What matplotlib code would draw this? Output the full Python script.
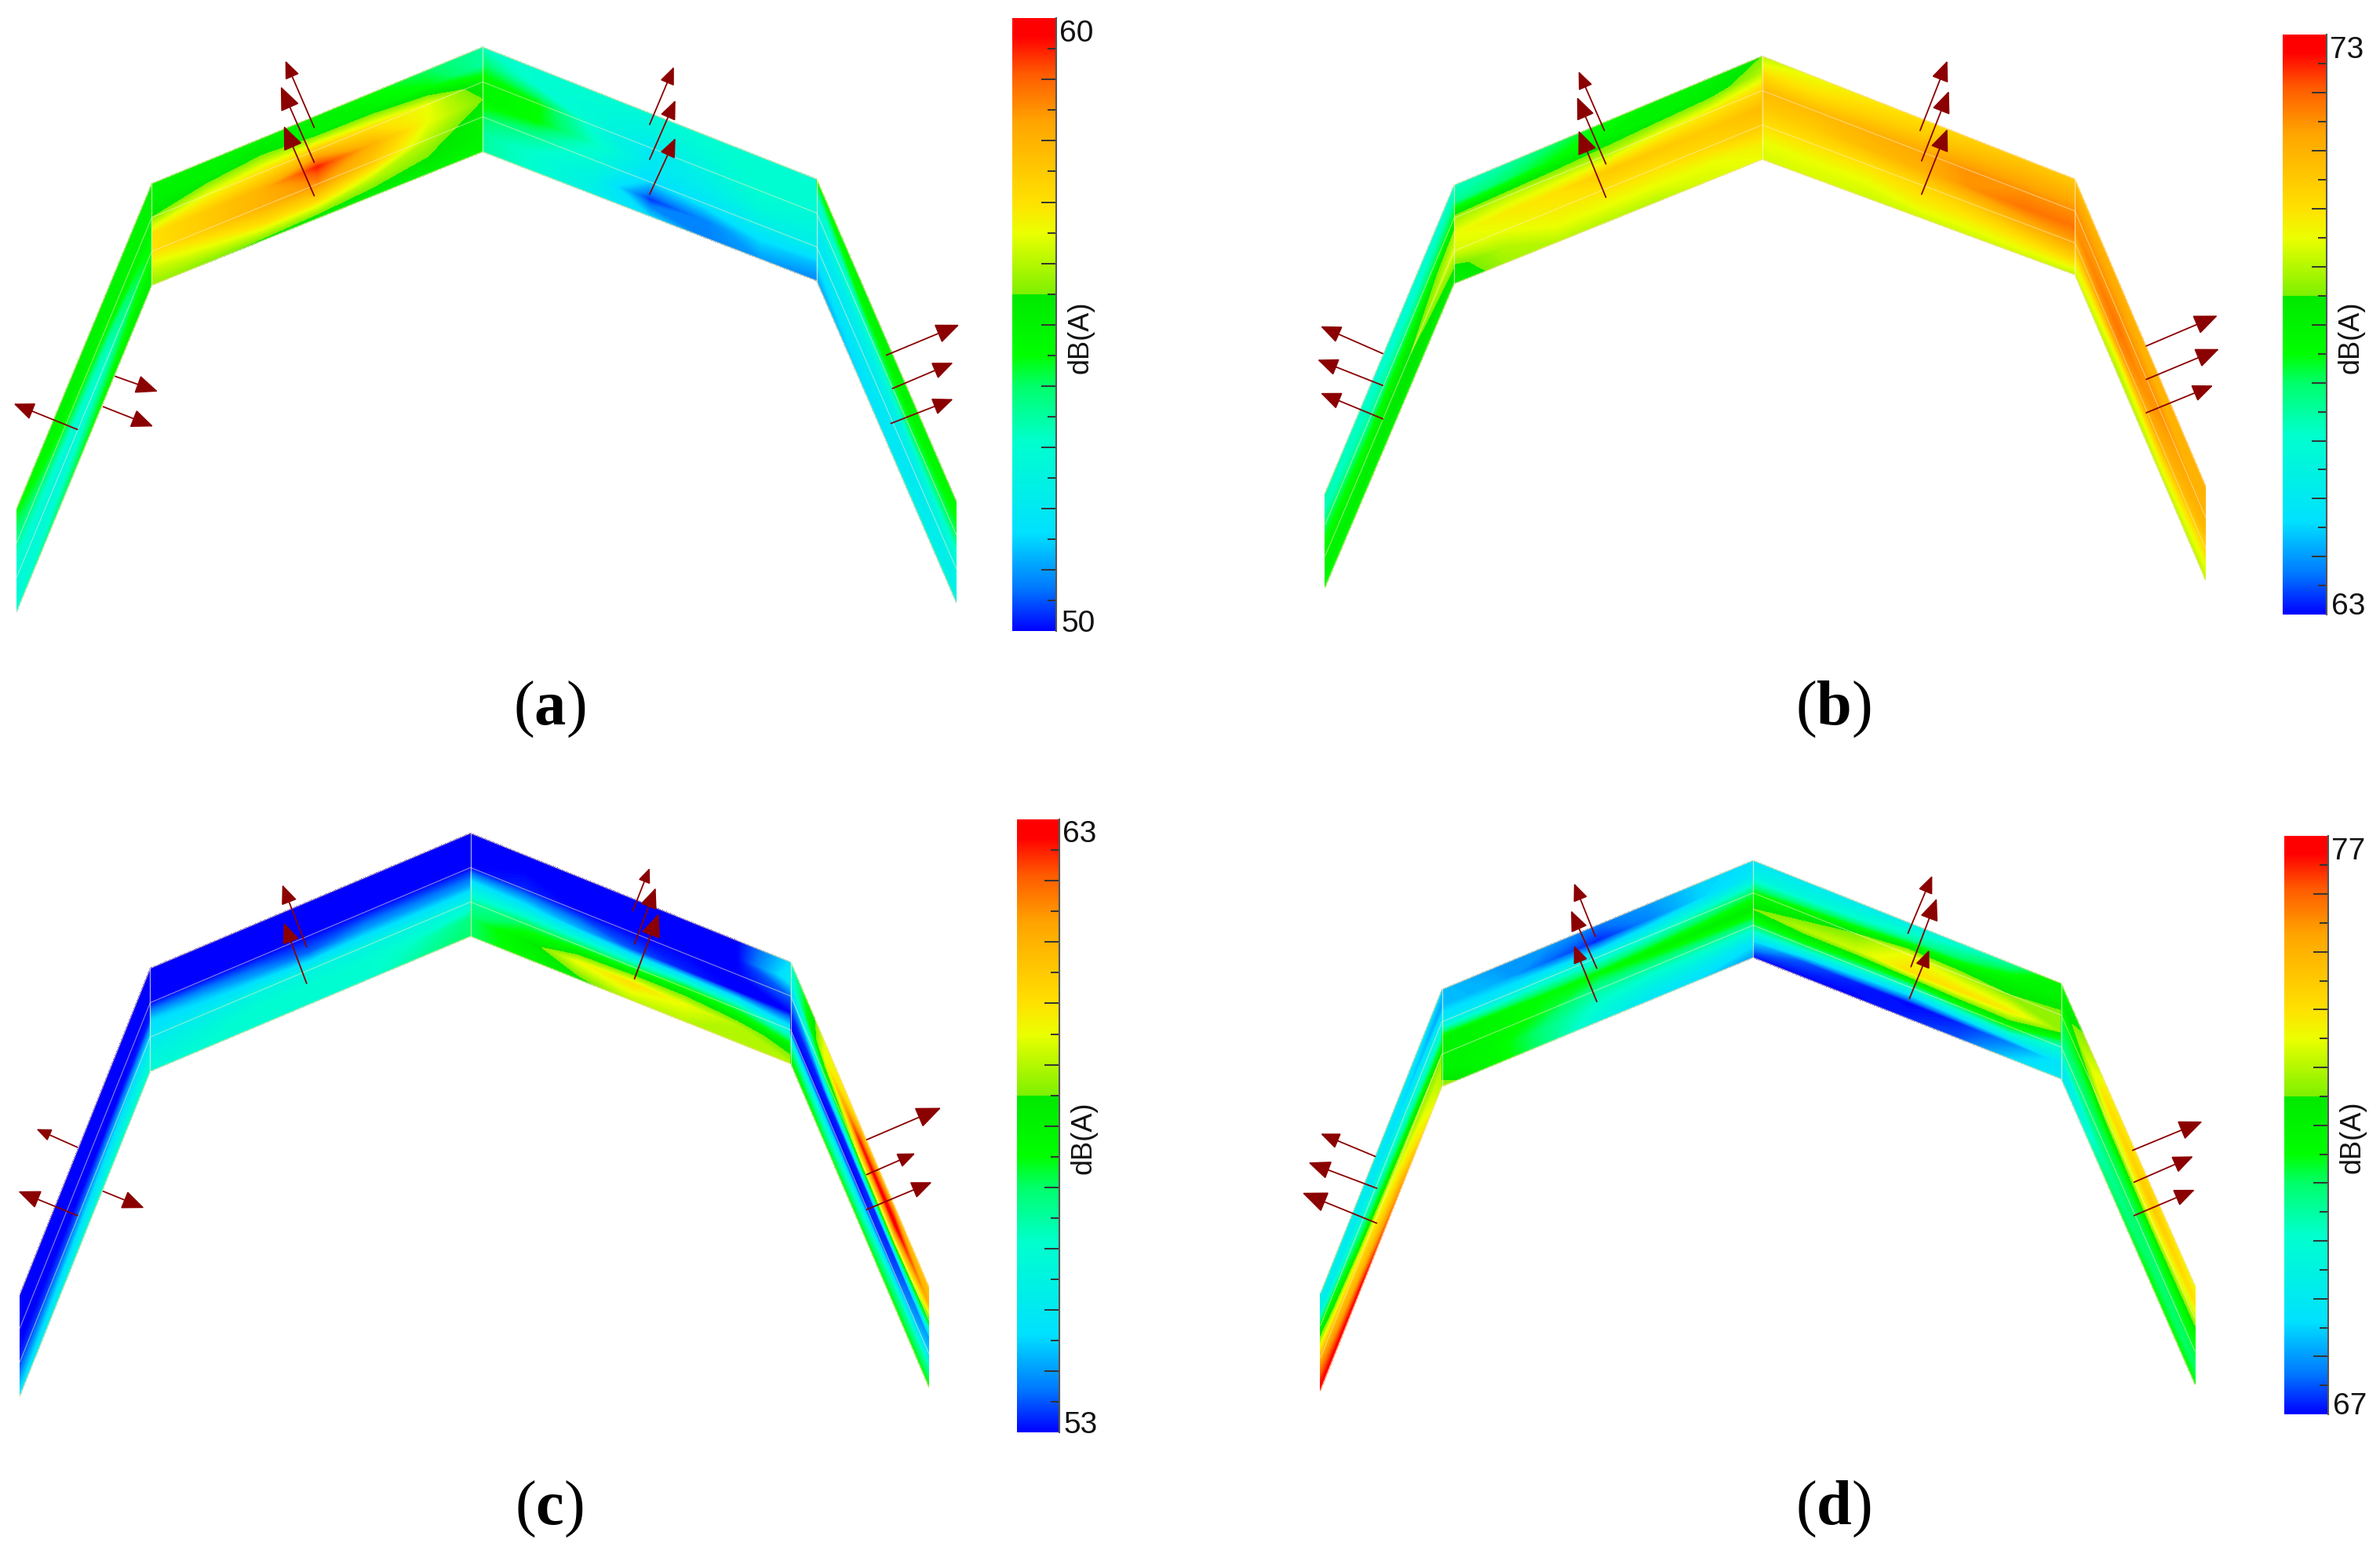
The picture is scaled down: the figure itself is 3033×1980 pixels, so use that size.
import numpy as np
import matplotlib
matplotlib.use("Agg")
import matplotlib.pyplot as plt
from matplotlib.cm import ScalarMappable
from matplotlib.colors import LinearSegmentedColormap, Normalize

plt.rcParams["mathtext.fontset"] = "custom"
plt.rcParams["mathtext.rm"] = "Liberation Serif"
plt.rcParams["mathtext.bf"] = "Liberation Serif:bold"

# colour scale of the contour plots, position on the bar -> rgb
cmap_stops = [
    (0.00, (0, 0, 255)), (0.07, (0, 120, 255)), (0.16, (0, 225, 255)),
    (0.31, (0, 255, 205)), (0.40, (0, 255, 105)), (0.45, (0, 255, 0)),
    (0.5499, (0, 232, 0)), (0.55, (125, 240, 0)), (0.65, (235, 255, 0)),
    (0.70, (255, 225, 0)), (0.83, (255, 165, 0)), (0.91, (255, 90, 0)),
    (0.97, (255, 0, 0)), (1.00, (255, 0, 0)),
]

# outlines: (x, top y, bottom y) at far left, left eave, ridge, right eave, far right
frame_a = [(11, 335, 403), (100, 121, 188), (318, 31, 100), (538, 118, 185), (630, 330, 397)]
frame_b = [(873, 325, 387), (958, 122, 187), (1161, 37, 105), (1367, 118, 181), (1453, 320, 382)]
frame_c = [(13, 853, 920), (99, 638, 706), (310, 549, 617), (521, 634, 701), (612, 848, 914)]
frame_d = [(870, 852, 916), (950, 652, 716), (1155, 567, 631), (1358, 648, 711), (1446, 847, 912)]

# sound levels in dB(A), rows go across the strip, columns along it
a_slope_l = [[54.5, 55, 55, 55], [54, 55, 55, 55], [53.5, 54.3, 54.8, 55], [53, 53, 53.5, 54.8],
             [52.8, 52.5, 53, 54.5], [52.8, 53, 54, 55], [53, 54, 54.8, 55.2]]
a_roof_l = [[55, 55, 55, 55, 54.5, 54, 53.5], [55, 55, 55.5, 55, 55, 54.5, 53.5],
            [55.5, 56.5, 57, 57.5, 57, 56.5, 55], [57, 57.5, 58, 59.5, 58, 56.5, 55.5],
            [57, 57.5, 58, 58.5, 57.5, 56, 55], [56.2, 56.5, 57, 57, 56, 55.5, 55],
            [55.7, 55.5, 55.3, 55, 55, 55, 54.8]]
a_roof_r = [[53.2, 53, 53, 52.8, 53, 53, 53], [54, 53, 52.8, 52.5, 52.8, 53, 53],
            [54.8, 54.5, 52.8, 52, 52.5, 53, 52.8], [54.8, 54.5, 53.2, 52, 52.2, 52.8, 52.6],
            [54, 53.5, 52.8, 51.5, 51.8, 52.2, 52.2], [53.5, 53, 52.5, 50.3, 50.8, 51.5, 51.3],
            [53.5, 53, 52.3, 51.5, 50.8, 51, 50.8]]
a_slope_r = [[54.5, 55, 55, 54.8], [53, 54.8, 55, 54.5], [52.5, 53, 54, 54], [52, 52.3, 52.5, 53],
             [52, 52, 52, 52.5], [51.5, 51.8, 52, 52.3], [51, 51.5, 52.3, 52.5]]

b_slope_l = [[66.5, 66, 66, 66], [66.2, 66.2, 66, 66.5], [67, 66.5, 66.8, 67.5], [67.5, 67.5, 68, 68.8],
             [68, 68, 68.5, 69.3], [68, 68.2, 68.5, 68.5], [67.5, 67.8, 68, 68]]
b_roof_l = [[66.2, 66.4, 67, 67.5, 68, 68, 68.5], [66.6, 67, 67.5, 68, 68, 68.2, 69],
            [68.8, 69, 69, 69, 69.5, 69.8, 70.2], [69.5, 69.8, 70, 70.5, 70.5, 70.5, 70.8],
            [69.3, 69.5, 69.8, 70, 70, 70.2, 70.5], [68.3, 69, 69.5, 69.5, 69.5, 69.5, 69.8],
            [68, 68.8, 69, 69, 69, 69.3, 69.5]]
b_roof_r = [[69, 69.5, 69.8, 70, 70.3, 70.5, 70.5], [70, 70, 70.3, 70.5, 70.8, 71, 71],
            [70.8, 70.8, 71, 71.2, 71.5, 71.5, 71.5], [70.5, 70.5, 70.8, 71, 71.5, 71.8, 71.8],
            [70, 70, 70, 70.2, 70.5, 71, 71.3], [69.5, 69.5, 69.5, 69.8, 69.8, 70, 70.3],
            [69.3, 69.3, 69.2, 69.2, 69.2, 69.2, 69]]
b_slope_r = [[70.5, 71, 71, 71], [71.2, 71.2, 71, 71], [71.5, 71.5, 71.5, 71], [71.5, 71.8, 71.3, 70.8],
             [71, 71.5, 71, 70.2], [69.8, 69.5, 69.8, 69.5], [69.2, 68.8, 69, 69]]

c_slope_l = [[53, 53, 53, 53], [53, 53, 53, 53], [53, 53, 53, 53], [53, 53, 53, 53.2],
             [53.3, 53.5, 54, 54.5], [54, 54.5, 55, 55.5], [54.8, 55.5, 56, 56]]
c_roof_l = [[53, 53, 53, 53, 53, 53, 53], [53, 53, 53, 53, 53, 53, 53],
            [53, 53, 53, 53, 53, 53, 53], [54.5, 54.3, 54, 53.6, 54, 54, 54],
            [55, 55.2, 55.5, 55.5, 55.5, 55.5, 55.5], [55.5, 55.7, 56, 56, 56, 56.2, 56.8],
            [55.8, 56, 56, 56, 56, 56.5, 57]]
c_roof_r = [[53, 53, 53, 53, 53, 53, 54.6], [53, 53, 53, 53, 53, 53, 55],
            [53, 53.2, 53, 53, 53, 53, 53.6], [55, 54.8, 54.2, 53.5, 53.2, 53, 53],
            [56.5, 57, 57, 57, 57.5, 57, 55], [57, 58, 59.5, 60, 59.5, 59, 58],
            [57, 57.8, 58.2, 59, 59, 59, 59]]
c_slope_r = [[56, 59.5, 60, 60.5, 60.5], [55.5, 59.5, 62.5, 63, 61], [54, 57, 59, 60, 58],
             [53.2, 53.2, 53.2, 53.3, 54], [53, 53, 53, 53.5, 54.5], [56.5, 56, 56, 56.5, 56.5],
             [58, 57.5, 57.5, 57.5, 57.5]]

d_slope_l = [[69.5, 69.3, 69, 68.5], [69, 69, 68.5, 68], [71.5, 70, 69.5, 69], [73, 71.5, 71, 70.5],
             [75, 74, 73, 72.5], [76, 75, 74, 73], [77, 77, 75.5, 73]]
d_roof_l = [[68.3, 68, 68, 67.7, 68, 68.5, 68.6], [68.3, 68.2, 67.6, 67.2, 67.8, 68.5, 69],
            [69, 69, 69.5, 69.5, 69.8, 70.5, 71], [72, 71.8, 71.5, 71.5, 71.8, 72, 72.2],
            [72, 71.8, 71.3, 70.5, 70.5, 70.5, 70.5], [72, 71.7, 70.8, 70, 69.5, 69.3, 68.8],
            [72.8, 71.8, 70.8, 69.5, 68.8, 68.5, 68]]
d_roof_r = [[68.8, 69, 69, 69.2, 69.8, 70.5, 72], [69.5, 69.7, 70, 70.5, 71, 71.8, 72],
            [71.5, 72, 72.5, 73.5, 73, 72.5, 72.7], [72.5, 73, 73.2, 74, 74, 73.8, 72.7],
            [71, 71, 70.5, 70, 71, 71.5, 70], [68.5, 67.5, 67.2, 67, 67.2, 67.8, 68.8],
            [67, 67, 67, 67.2, 67.5, 68.5, 69]]
d_slope_r = [[71.5, 73.5, 74, 73.5], [72, 74, 74.5, 74], [71.3, 73, 73.5, 73], [71, 71.3, 71.5, 71.8],
             [70.5, 71, 71, 71.2], [69, 70.5, 71, 71], [69, 71, 71.5, 71.5]]

# arrows: tail x, tail y, head x, head y, head size
arrows_a = [(207, 84, 188, 40, 11), (207, 107, 185, 57, 15), (207, 129, 187, 83, 15),
            (428, 82, 444, 44, 11), (428, 105, 445, 66, 12), (428, 128, 445, 91, 12),
            (584, 234, 632, 214, 15), (588, 256, 628, 239, 13), (587, 279, 628, 263, 13),
            (51, 283, 9, 266, 13), (76, 248, 104, 258, 14), (68, 268, 101, 281, 14)]
arrows_b = [(1057, 86, 1040, 47, 11), (1058, 108, 1039, 64, 14), (1058, 130, 1040, 86, 15),
            (1265, 86, 1283, 40, 13), (1266, 106, 1284, 60, 14), (1266, 128, 1283, 85, 14),
            (1414, 228, 1461, 208, 15), (1414, 250, 1462, 230, 15), (1414, 272, 1458, 254, 13),
            (911, 233, 870, 215, 13), (911, 254, 868, 237, 13), (911, 276, 870, 259, 13)]
arrows_c = [(202, 624, 186, 583, 12), (202, 648, 187, 608, 13),
            (417, 600, 428, 572, 9), (418, 622, 432, 585, 13), (418, 645, 434, 602, 15),
            (571, 751, 620, 730, 16), (571, 774, 603, 760, 11), (571, 797, 614, 779, 13),
            (51, 756, 24, 744, 9), (51, 801, 12, 785, 14), (68, 785, 95, 796, 14)]
arrows_d = [(1051, 617, 1037, 582, 11), (1052, 638, 1035, 600, 13), (1052, 660, 1037, 623, 11),
            (1257, 615, 1273, 577, 11), (1259, 637, 1276, 592, 14), (1258, 658, 1271, 626, 11),
            (1405, 758, 1451, 739, 15), (1406, 779, 1445, 762, 13), (1406, 801, 1446, 784, 13),
            (906, 762, 870, 747, 12), (907, 783, 862, 766, 14), (907, 806, 858, 786, 16)]

# color bar box: left, right, top, bottom, low value
bar_a = (667, 696, 12, 416, 50)
bar_b = (1504, 1533, 23, 405, 63)
bar_c = (670, 698, 540, 944, 53)
bar_d = (1505, 1534, 551, 932, 67)

panel_labels = ["a", "b", "c", "d"]
label_pos = [(362, 467), (1208, 467), (362, 994), (1208, 994)]

W, H = 1568, 1024  # axes units, same as the shrunk reference
rgb = [(p, tuple(v / 255 for v in c)) for p, c in cmap_stops]
cmap = LinearSegmentedColormap.from_list("tecplot", rgb, N=1024)

fig = plt.figure(figsize=(30.33, 19.80), dpi=100, facecolor="white")
ax = fig.add_axes([0, 0, 1, 1])
ax.set_xlim(0, W)
ax.set_ylim(H, 0)
ax.axis("off")


def draw_segment(p0, p1, values, norm):
    z = np.array(values, dtype=float)
    nrow, ncol = z.shape
    s = np.linspace(0, 1, ncol)
    t = np.linspace(0, 1, nrow)[:, None]
    x = p0[0] + (p1[0] - p0[0]) * s
    top = p0[1] + (p1[1] - p0[1]) * s
    bot = p0[2] + (p1[2] - p0[2]) * s
    X = np.tile(x, (nrow, 1))
    Y = top + (bot - top) * t
    levels = np.linspace(norm.vmin, norm.vmax, 241)
    ax.contourf(X, Y, z, levels=levels, cmap=cmap, norm=norm, extend="both", zorder=1)


def draw_lines(frame):
    xs = np.array([p[0] for p in frame])
    tops = np.array([p[1] for p in frame])
    bots = np.array([p[2] for p in frame])
    ax.plot(xs, tops, color="#ffdca8", lw=0.9, alpha=0.8, zorder=2)
    ax.plot(xs, bots, color="#ffdca8", lw=0.9, alpha=0.8, zorder=2)
    for f in (1 / 3, 2 / 3):
        ax.plot(xs, tops + (bots - tops) * f, color="#fff2c8", lw=0.8, alpha=0.55, zorder=2)
    for x, t, b in frame[1:4]:
        ax.plot([x, x], [t, b], color="#fff2c8", lw=0.9, alpha=0.7, zorder=2)


def draw_arrows(arrows):
    for x0, y0, x1, y1, size in arrows:
        ax.annotate("", xy=(x1, y1), xytext=(x0, y0), zorder=3,
                    arrowprops=dict(arrowstyle="-|>,head_length=1.0,head_width=0.42",
                                    mutation_scale=size * 1.25, color="#8b0000", lw=1.3,
                                    shrinkA=0, shrinkB=0))


def draw_bar(bar, norm):
    left, right, top, bottom, low = bar
    cax = fig.add_axes([left / W, 1 - bottom / H, (right - left) / W, (bottom - top) / H])
    cb = fig.colorbar(ScalarMappable(norm=norm, cmap=cmap), cax=cax)
    cb.outline.set_visible(False)
    cb.set_ticks(np.arange(low + 1, low + 10))
    cb.set_ticklabels([])
    cax.set_yticks(np.arange(low + 0.5, low + 10, 1.0), minor=True)
    cax.tick_params(axis="y", which="major", direction="in", length=14, width=1.4, color="#333333", right=True)
    cax.tick_params(axis="y", which="minor", direction="in", length=8, width=1.4, color="#333333", right=True)
    cax.spines["right"].set_visible(True)
    cax.spines["right"].set_color("#555555")
    cax.spines["right"].set_linewidth(1.5)
    ax.text(right + 2, top + 10, str(low + 10), fontsize=28, family="Liberation Sans",
            ha="left", va="center", color="#111111")
    ax.text(right + 3, bottom - 5, str(low), fontsize=28, family="Liberation Sans",
            ha="left", va="center", color="#111111")
    ax.text(right + 16, (top + bottom) / 2 + 8, "dB(A)", fontsize=26, family="Liberation Sans",
            rotation=90, ha="center", va="center", color="#111111")


panels = [
    (frame_a, [a_slope_l, a_roof_l, a_roof_r, a_slope_r], arrows_a, bar_a),
    (frame_b, [b_slope_l, b_roof_l, b_roof_r, b_slope_r], arrows_b, bar_b),
    (frame_c, [c_slope_l, c_roof_l, c_roof_r, c_slope_r], arrows_c, bar_c),
    (frame_d, [d_slope_l, d_roof_l, d_roof_r, d_slope_r], arrows_d, bar_d),
]

for frame, segments, arrows, bar in panels:
    norm = Normalize(bar[4], bar[4] + 10)
    for i, values in enumerate(segments):
        draw_segment(frame[i], frame[i + 1], values, norm)
    draw_lines(frame)
    draw_arrows(arrows)
    draw_bar(bar, norm)

for name, (x, y) in zip(panel_labels, label_pos):
    ax.text(x, y, r"$\mathrm{(}\mathbf{%s}\mathrm{)}$" % name, fontsize=58,
            ha="center", va="center", color="black")

fig.savefig("out.png", dpi=100)
